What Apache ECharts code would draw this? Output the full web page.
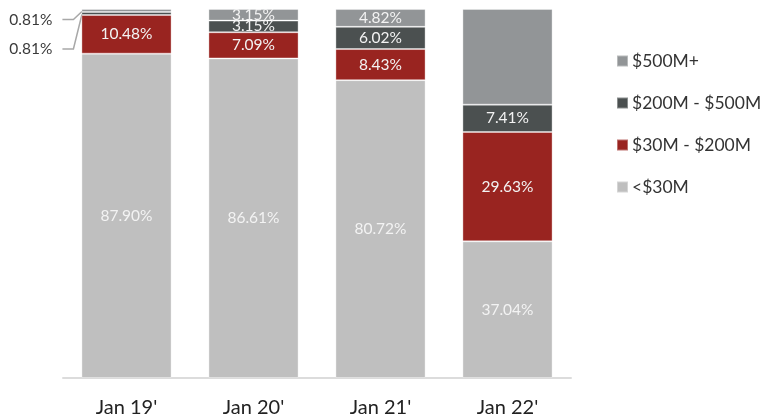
<!DOCTYPE html>
<html><head><meta charset="utf-8">
<script src="https://cdn.jsdelivr.net/npm/echarts@6/dist/echarts.min.js"></script>
<style>html,body{margin:0;padding:0;background:#fff}#c{width:765px;height:418px}</style>
</head><body><div id="c"></div>
<script>
const categories = ["Jan 19'", "Jan 20'", "Jan 21'", "Jan 22'"];
const under30 = [87.90, 86.61, 80.72, 37.04];
const m30to200 = [10.48, 7.09, 8.43, 29.63];
const m200to500 = [0.81, 3.15, 6.02, 7.41];
const m500plus = [0.81, 3.15, 4.82, 25.93];
const seriesNames = ['<$30M', '$30M - $200M', '$200M - $500M', '$500M+'];
const colors = ['#bfbfbf', '#992420', '#4b5050', '#929597'];
const hiddenLabels = { 3: [3] }; // series 3, Jan 22' has no label
const outsideLabels = { 2: 37, 3: 10.5 }; // tiny Jan 19' segments labelled outside (vertical offset)

const FONT = 'Lato';
const chart = echarts.init(document.getElementById('c'));
const all = [under30, m30to200, m200to500, m500plus];
const series = all.map((vals, si) => ({
  name: seriesNames[si],
  type: 'bar',
  stack: 'total',
  barCategoryGap: '29%',
  itemStyle: { color: colors[si], borderColor: 'rgba(255,255,255,0.35)', borderWidth: 1 },
  data: vals.map((v, di) => {
    const d = { value: v };
    if (hiddenLabels[si] && hiddenLabels[si].includes(di)) d.label = { show: false };
    if (di === 0 && outsideLabels[si] !== undefined) {
      d.label = { show: true, color: '#3a3a3a', fontSize: 15.5, position: 'inside',
        padding: [0, 10, 0, 0], backgroundColor: 'rgba(255,255,255,0)' };
    }
    return d;
  }),
  label: {
    show: true, position: 'inside', color: '#f3f3f3', fontSize: 15.5, fontFamily: FONT,
    formatter: p => p.value.toFixed(2) + '%'
  },
  labelLine: { show: true, length2: 11, minTurnAngle: 0, lineStyle: { color: '#a8a8a8', width: 1.5 } },
  labelLayout: function (p) {
    if (p.dataIndex === 0 && outsideLabels[p.seriesIndex] !== undefined) {
      return { x: p.rect.x - 19, y: p.rect.y + outsideLabels[p.seriesIndex], align: 'right', verticalAlign: 'middle' };
    }
    return {};
  }
}));

chart.setOption({
  animation: false,
  textStyle: { fontFamily: FONT },
  grid: { left: 63, top: 9, width: 508, bottom: 39 },
  legend: {
    orient: 'vertical', left: 611, top: 47, itemGap: 24,
    itemWidth: 11, itemHeight: 11, icon: 'rect',
    data: seriesNames.slice().reverse(),
    textStyle: { fontSize: 17.5, color: '#333', fontFamily: FONT, padding: [0, 0, 0, -1] }
  },
  xAxis: {
    type: 'category', data: categories,
    axisLine: { show: true, lineStyle: { color: '#dcdcdc', width: 2 } },
    axisTick: { show: false },
    axisLabel: { fontSize: 20, color: '#222', margin: 20, fontFamily: FONT }
  },
  yAxis: { type: 'value', min: 0, max: 100, show: false },
  series: series
});
</script></body></html>
